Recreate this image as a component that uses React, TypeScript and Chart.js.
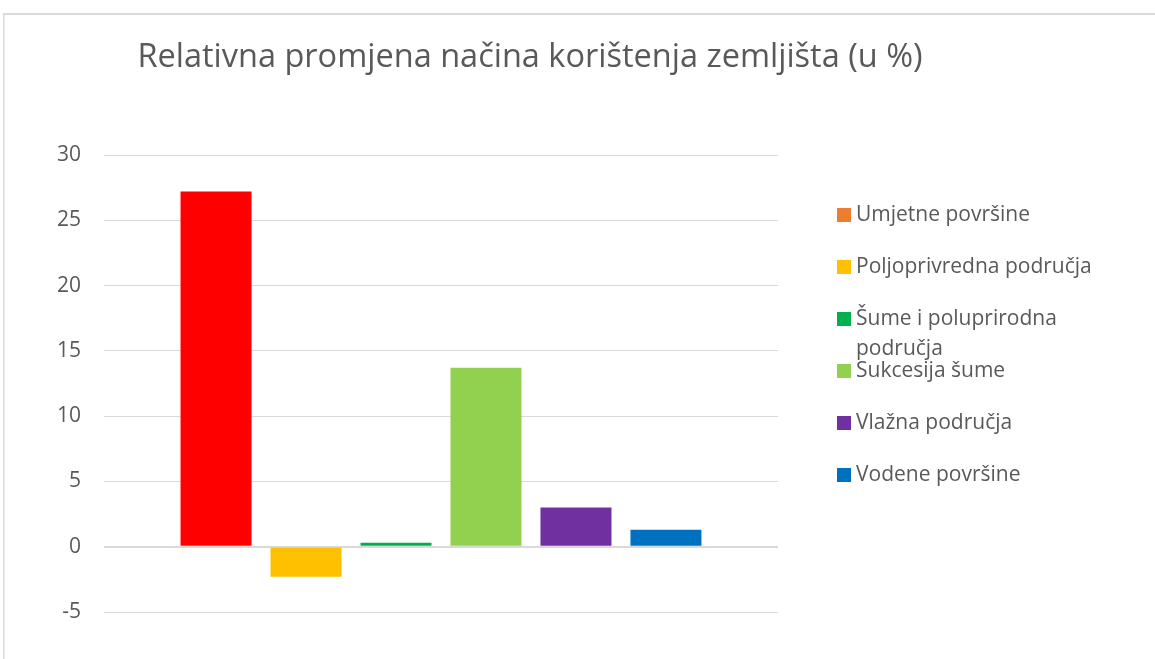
import React, { useEffect, useRef } from "react";
import { Chart, registerables } from "chart.js";

Chart.register(...registerables);

const chartTitle = "Relativna promjena načina korištenja zemljišta (u %)";
const categories = [
  "Umjetne površine",
  "Poljoprivredna područja",
  "Šume i poluprirodna područja",
  "Sukcesija šume",
  "Vlažna područja",
  "Vodene površine",
];
const values = [27.2, -2.3, 0.3, 13.7, 3.0, 1.3];
const barColors = ["#FF0000", "#FFC000", "#00B050", "#92D050", "#7030A0", "#0070C0"];
const legendColors = ["#ED7D31", "#FFC000", "#00B050", "#92D050", "#7030A0", "#0070C0"];
const yMin = -5;
const yMax = 30;
const yStep = 5;

const TEXT = "#595959";
const GRID = "#d9d9d9";
const FONT = "'Open Sans', 'Noto Sans', sans-serif";

const framePlugin = {
  id: "frame",
  beforeDraw(chart: any) {
    const { ctx, width, height } = chart;
    ctx.save();
    ctx.fillStyle = "#ffffff";
    ctx.fillRect(0, 0, width, height);
    ctx.fillStyle = GRID;
    ctx.fillRect(3, 13, width - 3, 2);
    ctx.fillRect(3, 13, 1.5, height - 13);
    ctx.restore();
  },
  afterDraw(chart: any) {
    const { ctx, chartArea } = chart;
    ctx.save();
    // title
    ctx.fillStyle = TEXT;
    ctx.font = `32.5px ${FONT}`;
    ctx.textAlign = "center";
    ctx.textBaseline = "alphabetic";
    ctx.fillText(chartTitle, 530, 67);
    // legend
    ctx.font = `21px ${FONT}`;
    ctx.textAlign = "left";
    ctx.textBaseline = "middle";
    const boxX = chartArea.right + 59;
    const textX = boxX + 19;
    const maxW = 260;
    let y = 215;
    chart.data.datasets.forEach((ds: any, i: number) => {
      ctx.fillStyle = legendColors[i];
      ctx.fillRect(boxX, y - 7, 14, 14);
      ctx.fillStyle = TEXT;
      const words = String(ds.label).split(" ");
      const lines: string[] = [];
      let cur = "";
      words.forEach((w) => {
        const t = cur ? cur + " " + w : w;
        if (ctx.measureText(t).width > maxW && cur) {
          lines.push(cur);
          cur = w;
        } else cur = t;
      });
      if (cur) lines.push(cur);
      lines.forEach((ln, k) => ctx.fillText(ln, textX, y + k * 30));
      y += 52;
    });
    ctx.restore();
  },
};

export default function App() {
  const ref = useRef<HTMLCanvasElement | null>(null);
  useEffect(() => {
    if (!ref.current) return;
    const chart = new Chart(ref.current, {
      type: "bar",
      data: {
        labels: [""],
        datasets: categories.map((c, i) => ({
          label: c,
          data: [values[i]],
          backgroundColor: barColors[i],
          borderWidth: 0,
        })),
      },
      options: {
        animation: false,
        responsive: true,
        maintainAspectRatio: false,
        layout: { padding: { left: 0, right: 377, top: 155, bottom: 47 } },
        datasets: { bar: { categoryPercentage: 0.801, barPercentage: 0.789 } },
        plugins: {
          legend: { display: false },
          title: { display: false },
          tooltip: { enabled: false },
        },
        scales: {
          x: { display: false },
          y: {
            min: yMin,
            max: yMax,
            afterFit: (s: any) => {
              s.width = 104;
            },
            border: { display: false },
            grid: {
              color: GRID,
              drawTicks: false,
              lineWidth: (c: any) => (c.tick && c.tick.value === 0 ? 2 : 1),
            },
            ticks: {
              stepSize: yStep,
              padding: 23,
              color: TEXT,
              font: { family: FONT, size: 21 },
            },
          },
        },
      },
      plugins: [framePlugin],
    });
    return () => chart.destroy();
  }, []);
  return (
    <div style={{ position: "fixed", left: 0, top: 0, width: 1155, height: 659, background: "#fff" }}>
      <canvas ref={ref} />
    </div>
  );
}
